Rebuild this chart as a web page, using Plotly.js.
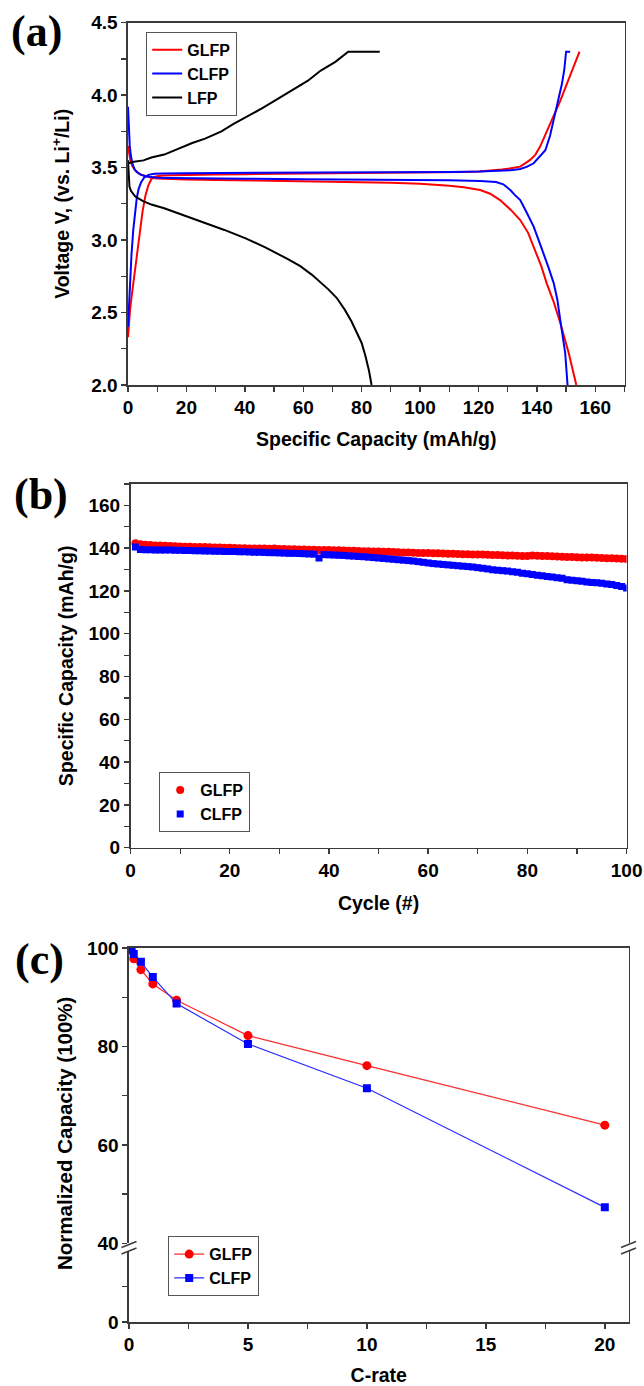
<!DOCTYPE html>
<html>
<head>
<meta charset="utf-8">
<script src="https://cdn.plot.ly/plotly-3.0.1.min.js"></script>
<style>
html,body{margin:0;padding:0;background:#fff;}
#chart{width:644px;height:1386px;}
</style>
</head>
<body>
<div id="chart"></div>
<script>
// ---------- Panel (a): charge/discharge profiles ----------
const glfpChargeX = [0, 0.3, 0.7, 1.3, 2, 3, 4.1, 5, 6, 7, 8, 9, 10, 12, 15, 20, 30, 40, 60, 80, 100, 110, 115, 120, 125, 128, 131, 134.3, 137.7, 139.5, 141.1, 143, 146, 148, 150.3, 152.5, 154.6];
const glfpChargeV = [2.33, 2.42, 2.52, 2.62, 2.73, 2.89, 3.07, 3.20, 3.31, 3.38, 3.42, 3.435, 3.44, 3.445, 3.447, 3.45, 3.452, 3.455, 3.458, 3.46, 3.463, 3.466, 3.469, 3.473, 3.48, 3.487, 3.495, 3.507, 3.553, 3.59, 3.645, 3.73, 3.86, 3.96, 4.08, 4.19, 4.30];
const glfpDischX = [0, 0.3, 0.8, 1.5, 2.5, 4, 6, 8, 10, 15, 20, 30, 40, 60, 80, 90, 100, 105, 110, 115, 120.6, 124, 127.4, 131, 134.3, 137, 139.4, 141.5, 143.4, 145.8, 148, 150.9, 153.5];
const glfpDischV = [3.65, 3.60, 3.55, 3.51, 3.48, 3.455, 3.44, 3.43, 3.425, 3.42, 3.418, 3.415, 3.412, 3.408, 3.40, 3.395, 3.388, 3.383, 3.375, 3.365, 3.345, 3.32, 3.276, 3.21, 3.138, 3.05, 2.93, 2.82, 2.70, 2.57, 2.43, 2.22, 2.0];

const clfpChargeX = [0, 0.2, 0.45, 0.8, 1.2, 1.8, 2.4, 3.0, 3.6, 4.5, 5.5, 7, 9, 12, 20, 40, 60, 80, 100, 110, 120.6, 127, 131, 134.3, 136.5, 138.9, 140.8, 142.9, 144.5, 146, 147.3, 148.6, 149.4, 150.0, 151.4];
const clfpChargeV = [2.40, 2.50, 2.61, 2.75, 2.90, 3.07, 3.20, 3.29, 3.35, 3.40, 3.43, 3.45, 3.457, 3.46, 3.462, 3.463, 3.464, 3.466, 3.468, 3.47, 3.473, 3.477, 3.482, 3.49, 3.505, 3.53, 3.57, 3.62, 3.72, 3.86, 3.97, 4.08, 4.18, 4.30, 4.30];
const clfpDischX = [0, 0.1, 0.3, 0.6, 1, 1.5, 2.2, 3, 4.5, 6, 8, 10, 15, 20, 40, 60, 80, 100, 110, 120.6, 126, 128.5, 130.9, 132.5, 134.3, 136.5, 138.9, 140.6, 142.3, 144, 145.8, 147, 148, 149, 149.7, 150.5];
const clfpDischV = [3.92, 3.85, 3.74, 3.65, 3.58, 3.53, 3.49, 3.47, 3.45, 3.44, 3.435, 3.43, 3.428, 3.426, 3.423, 3.42, 3.418, 3.415, 3.413, 3.408, 3.40, 3.385, 3.345, 3.31, 3.276, 3.19, 3.093, 3.00, 2.91, 2.81, 2.70, 2.59, 2.45, 2.33, 2.22, 2.0];

const lfpChargeX = [0, 2, 5.3, 8, 12.4, 17, 22, 26.4, 32, 36, 40.5, 46, 51.7, 56, 61.6, 66, 71, 75.4, 80, 86.2];
const lfpChargeV = [3.53, 3.54, 3.55, 3.57, 3.59, 3.63, 3.67, 3.70, 3.75, 3.80, 3.85, 3.91, 3.98, 4.03, 4.10, 4.17, 4.23, 4.30, 4.30, 4.30];
const lfpDischX = [0, 0.2, 0.5, 1, 2.5, 5, 8, 12.4, 19.4, 26.4, 33, 40.5, 47, 54.6, 59, 63, 66, 68.6, 71.5, 74.2, 76.5, 78.5, 80, 81.3, 82.5, 83.4];
const lfpDischV = [3.55, 3.45, 3.37, 3.34, 3.30, 3.27, 3.245, 3.22, 3.17, 3.12, 3.07, 3.01, 2.95, 2.87, 2.82, 2.76, 2.71, 2.66, 2.60, 2.52, 2.44, 2.36, 2.29, 2.20, 2.10, 2.0];

// ---------- Panel (b): cycling ----------
const cycles = [1,2,3,4,5,6,7,8,9,10,11,12,13,14,15,16,17,18,19,20,21,22,23,24,25,26,27,28,29,30,31,32,33,34,35,36,37,38,39,40,41,42,43,44,45,46,47,48,49,50,51,52,53,54,55,56,57,58,59,60,61,62,63,64,65,66,67,68,69,70,71,72,73,74,75,76,77,78,79,80,81,82,83,84,85,86,87,88,89,90,91,92,93,94,95,96,97,98,99,100];
const glfpCycle = [142.3,141.8,141.6,141.5,141.3,141.2,141.1,141.0,140.9,140.8,
  140.7,140.7,140.6,140.5,140.5,140.4,140.3,140.3,140.2,140.2,
  140.1,140.0,140.0,139.9,139.9,139.8,139.8,139.7,139.9,139.6,
  139.6,139.5,139.5,139.4,139.4,139.3,139.3,139.2,139.2,139.1,
  139.0,139.0,138.9,138.8,138.8,138.7,138.6,138.6,138.5,138.4,
  138.3,138.3,138.2,138.1,138.0,138.0,137.9,137.8,137.8,137.7,
  137.6,137.6,137.5,137.4,137.4,137.3,137.2,137.2,137.1,137.0,
  137.0,136.9,136.8,136.8,136.7,136.6,136.6,136.5,136.4,136.4,
  136.6,136.5,136.4,136.3,136.2,136.1,136.0,135.9,135.9,135.8,
  135.7,135.6,135.6,135.5,135.4,135.3,135.3,135.2,135.1,135.0];
const clfpCycle = [140.5,139.4,139.3,139.3,139.2,139.2,139.1,139.1,139.0,139.0,
  138.9,138.9,138.8,138.8,138.7,138.7,138.6,138.6,138.5,138.5,
  138.4,138.3,138.3,138.2,138.1,138.1,138.0,137.9,137.9,137.8,
  137.7,137.6,137.6,137.5,137.4,137.3,137.2,135.4,137.0,136.9,
  136.8,136.7,136.6,136.4,136.3,136.1,136.0,135.8,135.6,135.4,
  135.2,135.0,134.8,134.6,134.4,134.2,134.0,133.7,133.4,133.1,
  132.8,132.6,132.4,132.2,132.0,131.8,131.6,131.4,131.2,130.9,
  130.6,130.3,129.9,129.7,129.5,129.3,129.0,128.7,128.3,128.0,
  127.7,127.4,127.1,126.8,126.5,126.2,125.9,125.3,125.0,124.8,
  124.5,124.2,124.0,123.8,123.6,123.3,123.0,122.6,122.1,121.4];

// ---------- Panel (c): rate capability ----------
const cRates = [0.1, 0.2, 0.5, 1, 2, 5, 10, 20];
const glfpRate = [99.5, 97.8, 95.6, 92.7, 89.4, 82.2, 76.1, 64.0];
const clfpRate = [99.7, 98.8, 97.2, 94.1, 88.7, 80.5, 71.5, 47.3];

const tickA_x = [0, 20, 40, 60, 80, 100, 120, 140, 160];
const tickA_y = [2.0, 2.5, 3.0, 3.5, 4.0, 4.5];
const tickB_x = [0, 20, 40, 60, 80, 100];
const tickB_y = [0, 20, 40, 60, 80, 100, 120, 140, 160];
const tickC_x = [0, 5, 10, 15, 20];
const tickC_yUpper = [40, 60, 80, 100];
const tickC_yLower = [0];

const RED = '#ff0000', BLUE = '#0000ff', BLACK = '#000000';
const W = 644, H = 1386;
const px = v => v / W;
const py = v => 1 - v / H;

const traces = [
  {x: glfpChargeX, y: glfpChargeV, xaxis: 'x', yaxis: 'y', mode: 'lines', name: 'GLFP', legendgroup: 'a1', line: {color: RED, width: 2}, legend: 'legend'},
  {x: glfpDischX, y: glfpDischV, xaxis: 'x', yaxis: 'y', mode: 'lines', name: 'GLFP', legendgroup: 'a1', showlegend: false, line: {color: RED, width: 2}},
  {x: clfpChargeX, y: clfpChargeV, xaxis: 'x', yaxis: 'y', mode: 'lines', name: 'CLFP', legendgroup: 'a2', line: {color: BLUE, width: 2}, legend: 'legend'},
  {x: clfpDischX, y: clfpDischV, xaxis: 'x', yaxis: 'y', mode: 'lines', name: 'CLFP', legendgroup: 'a2', showlegend: false, line: {color: BLUE, width: 2}},
  {x: lfpChargeX, y: lfpChargeV, xaxis: 'x', yaxis: 'y', mode: 'lines', name: 'LFP', legendgroup: 'a3', line: {color: BLACK, width: 2}, legend: 'legend'},
  {x: lfpDischX, y: lfpDischV, xaxis: 'x', yaxis: 'y', mode: 'lines', name: 'LFP', legendgroup: 'a3', showlegend: false, line: {color: BLACK, width: 2}},

  {x: cycles, y: glfpCycle, xaxis: 'x2', yaxis: 'y2', mode: 'markers', name: 'GLFP', legend: 'legend2', marker: {color: RED, symbol: 'circle', size: 8}},
  {x: cycles, y: clfpCycle, xaxis: 'x2', yaxis: 'y2', mode: 'markers', name: 'CLFP', legend: 'legend2', marker: {color: BLUE, symbol: 'square', size: 7}},

  // lower (broken) segment of panel (c): carries the shared C-rate axis, no data below the break
  {x: [], y: [], xaxis: 'x3', yaxis: 'y3', mode: 'markers', showlegend: false, hoverinfo: 'skip'},
  {x: cRates, y: glfpRate, xaxis: 'x4', yaxis: 'y4', mode: 'lines+markers', name: 'GLFP', legend: 'legend3', line: {color: '#ff2a2a', width: 1.2}, marker: {color: RED, symbol: 'circle', size: 9}},
  {x: cRates, y: clfpRate, xaxis: 'x4', yaxis: 'y4', mode: 'lines+markers', name: 'CLFP', legend: 'legend3', line: {color: '#2a2aff', width: 1.2}, marker: {color: BLUE, symbol: 'square', size: 8}}
];

const AXC = '#3a3a3a';
const FAM = 'Liberation Sans, Arial, sans-serif';
const tickFont = {family: FAM, size: 19, color: '#000', weight: 700};
const titleFont = {family: FAM, size: 19.5, color: '#000', weight: 700};
const legendFont = {family: FAM, size: 16, color: '#000', weight: 700};
const baseAxis = {showgrid: false, zeroline: false, showline: true, linecolor: AXC, linewidth: 1.6, ticks: 'outside', ticklen: 5, tickwidth: 1.4, tickcolor: AXC, tickfont: tickFont, automargin: false, fixedrange: true};
const minorTicks = d => ({dtick: d, ticks: 'outside', ticklen: 5, tickwidth: 1.2, tickcolor: AXC});

function ax(extra) { return Object.assign({}, baseAxis, extra); }

const layout = {
  width: W, height: H,
  margin: {l: 0, r: 0, t: 0, b: 0},
  paper_bgcolor: '#fff', plot_bgcolor: '#fff',
  showlegend: true,
  xaxis: ax({domain: [px(128), px(624.5)], range: [0, 170], anchor: 'y', tickmode: 'array', tickvals: tickA_x, mirror: true,
    minor: minorTicks(10),
    title: {text: 'Specific Capacity (mAh/g)', font: titleFont, standoff: 15}}),
  yaxis: ax({domain: [py(385), py(22.7)], range: [2, 4.5], anchor: 'x', tickmode: 'array', tickvals: tickA_y, tickformat: '.1f', mirror: true,
    minor: minorTicks(0.25),
    title: {text: 'Voltage V, (vs. Li<sup>+</sup>/Li)', font: titleFont, standoff: 16}}),

  xaxis2: ax({domain: [px(130.5), px(626.6)], range: [0, 100], anchor: 'y2', tickmode: 'array', tickvals: tickB_x, mirror: true,
    minor: minorTicks(10),
    title: {text: 'Cycle (#)', font: titleFont, standoff: 16}}),
  yaxis2: ax({domain: [py(847.7), py(484)], range: [0, 170], anchor: 'x2', tickmode: 'array', tickvals: tickB_y, mirror: true,
    minor: minorTicks(10),
    title: {text: 'Specific Capacity (mAh/g)', font: titleFont, standoff: 9}}),

  xaxis3: ax({domain: [px(129), px(628.6)], range: [0, 21], anchor: 'y3', tickmode: 'array', tickvals: tickC_x, mirror: false,
    minor: minorTicks(2.5),
    title: {text: 'C-rate', font: titleFont, standoff: 21}}),
  yaxis3: ax({domain: [py(1322), py(1251)], range: [0, 40], anchor: 'x3', tickmode: 'array', tickvals: tickC_yLower, mirror: true,
    minor: {tickmode: 'array', tickvals: [20], ticks: 'outside', ticklen: 5, tickwidth: 1.2, tickcolor: AXC}}),
  xaxis4: ax({domain: [px(129), px(628.6)], range: [0, 21], anchor: 'y4', side: 'top', ticks: '', showticklabels: false}),
  yaxis4: ax({domain: [py(1243.3), py(948)], range: [40, 100], anchor: 'x4', tickmode: 'array', tickvals: tickC_yUpper, mirror: true,
    minor: minorTicks(10)}),

  legend: {x: px(146), y: py(31.7), xanchor: 'left', yanchor: 'top', bgcolor: '#fff', bordercolor: '#555', borderwidth: 1.2,
    font: legendFont, tracegroupgap: 0},
  legend2: {x: px(159), y: py(772), xanchor: 'left', yanchor: 'top', bgcolor: '#fff', bordercolor: '#555', borderwidth: 1.2,
    font: legendFont},
  legend3: {x: px(168), y: py(1236), xanchor: 'left', yanchor: 'top', bgcolor: '#fff', bordercolor: '#555', borderwidth: 1.2,
    font: legendFont},

  annotations: [
    {text: '(a)', x: px(36), y: py(32), xref: 'paper', yref: 'paper', showarrow: false, xanchor: 'center', yanchor: 'middle',
      font: {family: 'Liberation Serif, Times New Roman, serif', size: 44, color: '#000', weight: 700}},
    {text: '(b)', x: px(41), y: py(494), xref: 'paper', yref: 'paper', showarrow: false, xanchor: 'center', yanchor: 'middle',
      font: {family: 'Liberation Serif, Times New Roman, serif', size: 44, color: '#000', weight: 700}},
    {text: '(c)', x: px(39), y: py(959), xref: 'paper', yref: 'paper', showarrow: false, xanchor: 'center', yanchor: 'middle',
      font: {family: 'Liberation Serif, Times New Roman, serif', size: 44, color: '#000', weight: 700}},
    // y-axis title of the broken axis in (c), centred on the whole axis (both segments)
    {text: 'Normalized Capacity (100%)', x: px(64), y: py(1134), xref: 'paper', yref: 'paper', showarrow: false, textangle: -90,
      xanchor: 'center', yanchor: 'middle', font: {family: FAM, size: 20.5, color: '#000', weight: 700}}
  ],
  shapes: [
    {type: 'line', xref: 'paper', yref: 'paper', x0: px(121.5), y0: py(1247.5), x1: px(136.5), y1: py(1241.5), line: {color: AXC, width: 1.5}},
    {type: 'line', xref: 'paper', yref: 'paper', x0: px(121.5), y0: py(1254), x1: px(136.5), y1: py(1248), line: {color: AXC, width: 1.5}},
    {type: 'line', xref: 'paper', yref: 'paper', x0: px(621), y0: py(1247.5), x1: px(636), y1: py(1241.5), line: {color: AXC, width: 1.5}},
    {type: 'line', xref: 'paper', yref: 'paper', x0: px(621), y0: py(1254), x1: px(636), y1: py(1248), line: {color: AXC, width: 1.5}}
  ]
};

Plotly.newPlot('chart', traces, layout, {displayModeBar: false, staticPlot: true});
</script>
</body>
</html>
